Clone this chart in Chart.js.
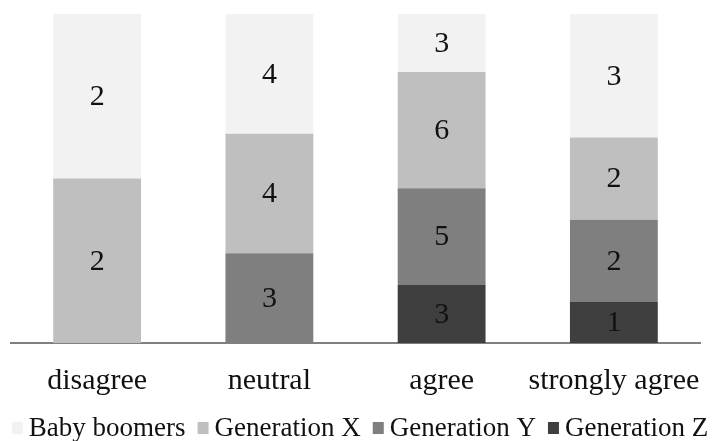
<!DOCTYPE html>
<html>
<head>
<meta charset="utf-8">
<script src="https://cdn.jsdelivr.net/npm/chart.js@4/dist/chart.umd.min.js"></script>
<style>
html,body{margin:0;padding:0;background:#fff;}
#wrap{width:716px;height:441px;position:relative;}
</style>
</head>
<body>
<div id="wrap"><canvas id="c" width="716" height="441"></canvas></div>
<script>
const categories = ["disagree", "neutral", "agree", "strongly agree"];
const seriesNames = ["Baby boomers", "Generation X", "Generation Y", "Generation Z"];
const babyBoomers = [2, 4, 3, 3];
const generationX = [2, 4, 6, 2];
const generationY = [0, 3, 5, 2];
const generationZ = [0, 0, 3, 1];
const colors = ["#f2f2f2", "#bfbfbf", "#7f7f7f", "#3f3f3f"];

const FONT = "'Liberation Serif', 'Times New Roman', Tinos, 'DejaVu Serif', serif";

const counts = [babyBoomers, generationX, generationY, generationZ];
const totals = categories.map((_, i) => counts.reduce((s, arr) => s + arr[i], 0));
const share = arr => arr.map((v, i) => v / totals[i] * 100);

// stacking order bottom -> top: Z, Y, X, Boomers
const datasets = [3, 2, 1, 0].map(k => ({
  label: seriesNames[k],
  data: share(counts[k]),
  counts: counts[k],
  backgroundColor: colors[k],
  borderWidth: 0
}));

const valueLabels = {
  id: 'valueLabels',
  afterDatasetsDraw(chart) {
    const ctx = chart.ctx;
    ctx.save();
    ctx.font = '30px ' + FONT;
    ctx.fillStyle = '#111';
    ctx.textAlign = 'center';
    ctx.textBaseline = 'middle';
    chart.data.datasets.forEach((ds, di) => {
      const meta = chart.getDatasetMeta(di);
      meta.data.forEach((el, i) => {
        const c = ds.counts[i];
        if (!c) return;
        const p = el.getProps(['x', 'y', 'base'], true);
        ctx.fillText(String(c), p.x, (p.y + p.base) / 2 + 1);
      });
    });
    ctx.restore();
  }
};

// legend drawn in the space reserved below the axis
const bottomLegend = {
  id: 'bottomLegend',
  afterDraw(chart) {
    const ctx = chart.ctx;
    ctx.save();
    ctx.font = '27px ' + FONT;
    const box = 11, gapBox = 6, gapItem = 12;
    const widths = seriesNames.map(n => ctx.measureText(n).width);
    const total = widths.reduce((s, w) => s + box + gapBox + w, 0) + gapItem * (seriesNames.length - 1);
    let x = (chart.width - total) / 2 + 2;
    const baseline = chart.height - 5;
    seriesNames.forEach((n, k) => {
      ctx.fillStyle = colors[k];
      ctx.fillRect(x, baseline - 14, box, 12);
      x += box + gapBox;
      ctx.fillStyle = '#111';
      ctx.textAlign = 'left';
      ctx.textBaseline = 'alphabetic';
      ctx.fillText(n, x, baseline);
      x += widths[k] + gapItem;
    });
    ctx.restore();
  }
};

function build() {
  new Chart(document.getElementById('c'), {
    type: 'bar',
    data: { labels: categories, datasets: datasets },
    options: {
      responsive: false,
      animation: false,
      layout: { padding: { left: 11, right: 16, top: 14, bottom: 22 } },
      scales: {
        x: {
          stacked: true,
          grid: { display: false, drawTicks: false },
          border: { display: true, color: '#7f7f7f', width: 2 },
          ticks: { color: '#111', font: { family: FONT, size: 30 }, padding: 20,
                   maxRotation: 0, minRotation: 0, autoSkip: false },
          afterFit(scale) { scale.paddingLeft = 0; scale.paddingRight = 0; }
        },
        y: { stacked: true, display: false, min: 0, max: 100 }
      },
      datasets: { bar: { categoryPercentage: 1, barPercentage: 0.51 } },
      plugins: {
        legend: { display: false },
        tooltip: { enabled: false }
      }
    },
    plugins: [valueLabels, bottomLegend]
  });
}

Promise.all([
  document.fonts.load("27px 'Liberation Serif'"),
  document.fonts.load("30px 'Liberation Serif'")
]).then(build, build);
</script>
</body>
</html>
